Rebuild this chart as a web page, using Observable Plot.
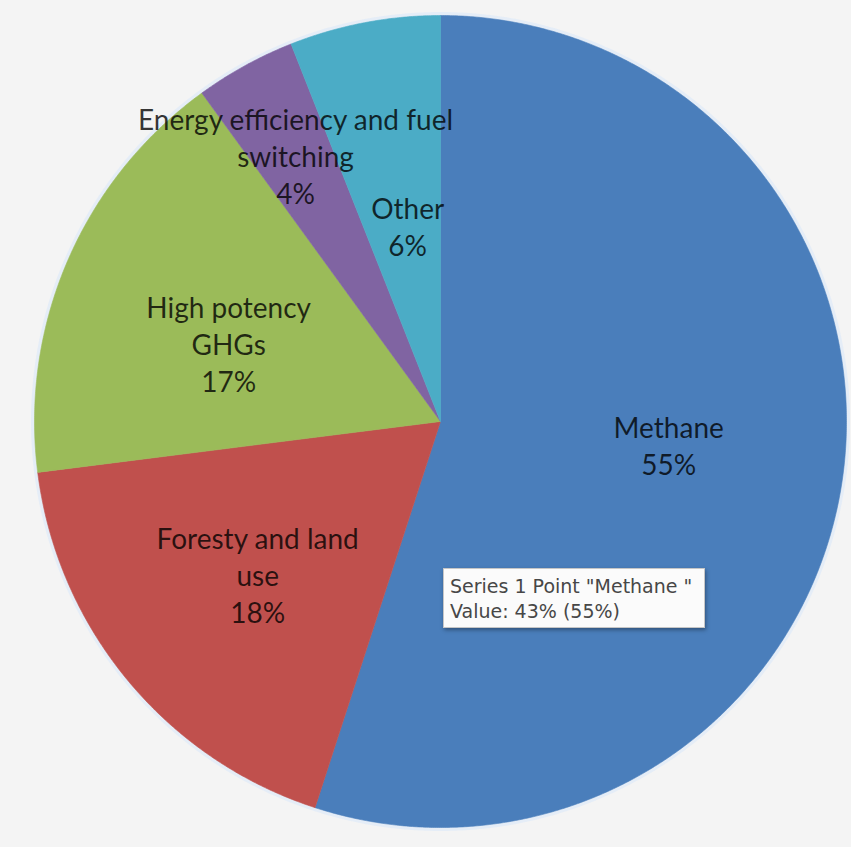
<!DOCTYPE html>
<html><head><meta charset="utf-8">
<script src="https://cdn.jsdelivr.net/npm/d3@7"></script>
<script src="https://cdn.jsdelivr.net/npm/@observablehq/plot@0.6"></script>
<style>
body{margin:0;background:#f4f4f4;}
#wrap{position:relative;width:851px;height:847px;overflow:hidden;}
#wrap svg{position:absolute;left:0;top:0;}
#tip{position:absolute;left:443px;top:568px;width:262px;height:60px;background:#fbfbfb;border:1px solid #c6c6c6;box-shadow:1px 2px 4px rgba(0,0,0,0.35);font-family:"DejaVu Sans",sans-serif;font-size:19px;color:#474747;box-sizing:border-box;padding:5px 6px;line-height:25px;white-space:nowrap;}
</style></head><body><div id="wrap"></div>
<script>
// ---- data ----
const categories = ["Methane", "Foresty and land use", "High potency GHGs", "Energy efficiency and fuel switching", "Other"];
const labelLines = ["Methane", "Foresty and land\nuse", "High potency\nGHGs", "Energy efficiency and fuel\nswitching", "Other"];
const shares = [55, 18, 17, 4, 6];
const colors = ["#4a7ebb", "#c0504d", "#9bbb59", "#8064a2", "#4bacc6"];
const tooltipLines = ['Series 1 Point "Methane "', 'Value: 43% (55%)'];

// ---- layout (not data): label distance from centre (fraction of radius) and angular nudge (degrees) ----
const labelRadius = [0.565, 0.587, 0.556, 0.746, 0.49];
const labelNudge = [-3.1, -0.3, -3.2, 0.2, 1.3];

const arcs = d3.pie().sort(null).value(d => d)(shares);
const slices = [];
arcs.forEach((a, i) => {
  const n = Math.max(2, Math.ceil((a.endAngle - a.startAngle) / 0.005));
  slices.push({cat: categories[i], x: 0, y: 0});
  for (let k = 0; k <= n; k++) {
    const t = a.startAngle + (a.endAngle - a.startAngle) * k / n;
    slices.push({cat: categories[i], x: Math.sin(t), y: Math.cos(t)});
  }
  slices.push({cat: categories[i], x: 0, y: 0});
});
const rim = d3.range(0, 721).map(k => ({x: Math.sin(k / 720 * 2 * Math.PI), y: Math.cos(k / 720 * 2 * Math.PI)}));
const labels = arcs.map((a, i) => {
  const m = (a.startAngle + a.endAngle) / 2 + labelNudge[i] * Math.PI / 180;
  return {x: labelRadius[i] * Math.sin(m), y: labelRadius[i] * Math.cos(m), text: labelLines[i] + "\n" + shares[i] + "%"};
});

const chart = Plot.plot({
  width: 851, height: 847,
  margin: 0,
  style: {background: "transparent", overflow: "visible"},
  x: {domain: [-1, 1], range: [34, 846], axis: null},
  y: {domain: [-1, 1], range: [827, 15], axis: null},
  color: {domain: categories, range: colors},
  marks: [
    Plot.line(rim, {x: "x", y: "y", stroke: "#e3ecf7", strokeWidth: 7, strokeOpacity: 0.9}),
    Plot.line(slices, {x: "x", y: "y", z: "cat", fill: "cat", stroke: "cat", strokeWidth: 0.6, curve: "linear"}),
    Plot.text(labels, {x: "x", y: "y", text: "text", fontSize: 28, lineHeight: 1.32, fontFamily: "Lato", fill: "#000", fillOpacity: 0.78, textAnchor: "middle"})
  ]
});
const wrap = document.getElementById("wrap");
wrap.appendChild(chart);
const tip = document.createElement("div");
tip.id = "tip";
tip.innerHTML = tooltipLines.map(s => s.replace(/&/g, "&amp;").replace(/</g, "&lt;")).join("<br>");
wrap.appendChild(tip);
</script>
</body></html>
